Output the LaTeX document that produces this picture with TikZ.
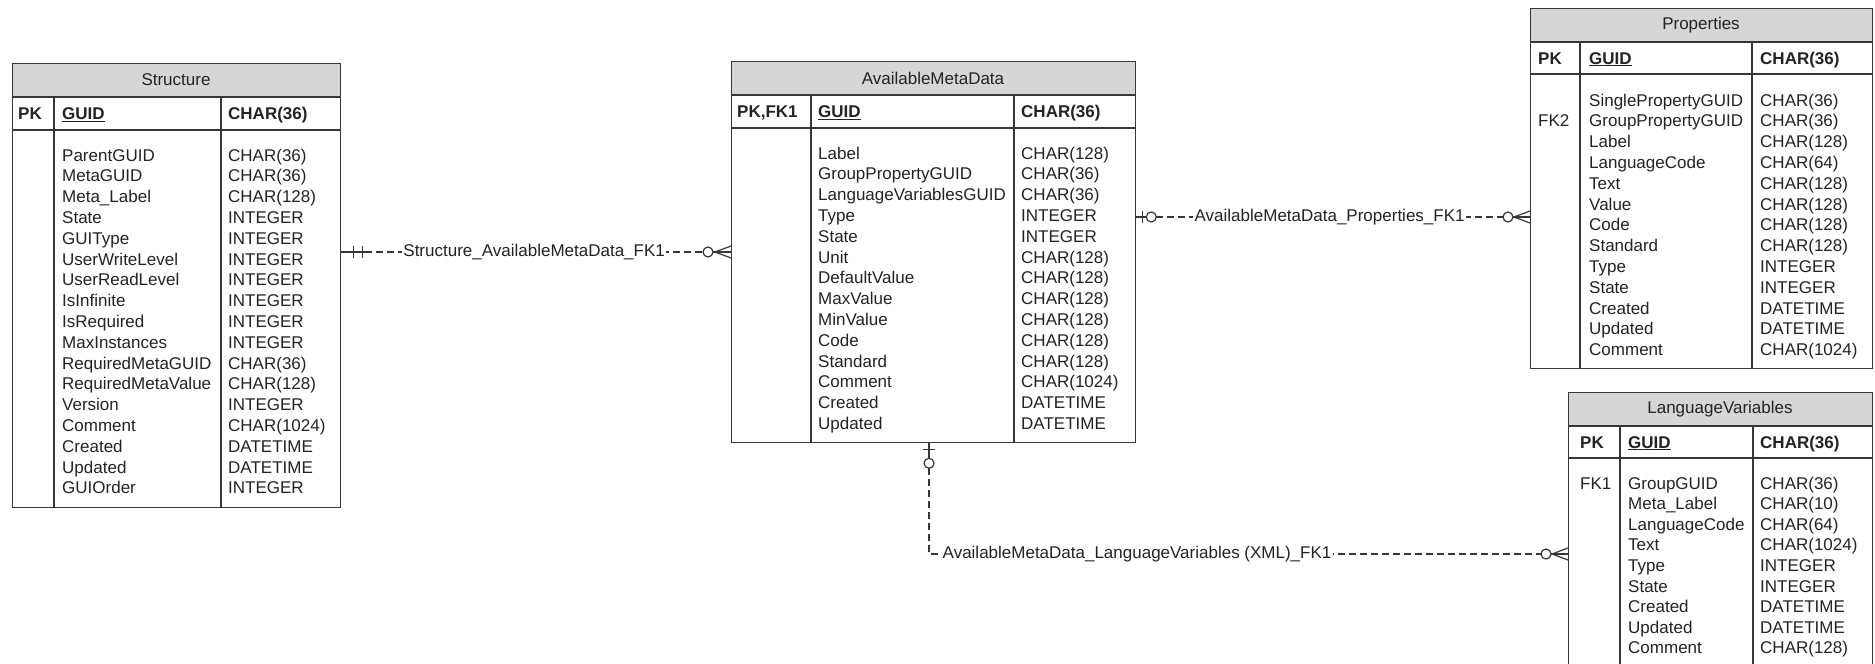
\documentclass[tikz,border=0pt]{standalone}
\usepackage{fontspec}
\setmainfont{Liberation Sans}
\usetikzlibrary{calc}
\definecolor{ink}{RGB}{35,35,35}
\definecolor{titlegray}{RGB}{214,214,214}
\definecolor{linegray}{RGB}{55,55,55}
\tikzset{
  tbox/.style={draw=linegray, line width=1.3pt, inner sep=0pt, anchor=north west},
  tline/.style={draw=linegray, line width=1.3pt},
  txt/.style={anchor=base west, inner sep=0pt, text=ink, font=\fontsize{17}{20}\selectfont},
  ttl/.style={anchor=center, inner sep=0pt, text=ink, font=\fontsize{17}{20}\selectfont},
  rel/.style={draw=linegray, line width=1.2pt, dash pattern=on 7pt off 4pt},
  relsolid/.style={draw=linegray, line width=1.2pt},
  lbl/.style={fill=white, inner sep=1.5pt, text=ink, font=\fontsize{17}{20}\selectfont},
}
\begin{document}
\begin{tikzpicture}[x=1pt,y=-1pt]
\useasboundingbox[fill=white] (0,0) rectangle (1875,664);

% ---------------- Structure ----------------
\fill[titlegray] (12,63) rectangle (340,97);
\node[tbox, minimum width=328pt, minimum height=444pt] (structure) at (12,63) {};
\draw[tline] (12,97) -- (340,97);
\draw[tline] (12,130) -- (340,130);
\draw[tline] (54,97) -- (54,507);
\draw[tline] (221,97) -- (221,507);
\node[ttl] (s-title) at (176,80) {Structure};
\node[txt] (s-pk) at (18,119.5) {\textbf{PK}};
\node[txt] (s-guid) at (62,119.5) {\textbf{\underline{GUID}}};
\node[txt] (s-guidt) at (228,119.5) {\textbf{CHAR(36)}};
\foreach \n/\t [count=\i from 0] in {ParentGUID/CHAR(36), MetaGUID/CHAR(36), Meta\_Label/CHAR(128), State/INTEGER, GUIType/INTEGER, UserWriteLevel/INTEGER, UserReadLevel/INTEGER, IsInfinite/INTEGER, IsRequired/INTEGER, MaxInstances/INTEGER, RequiredMetaGUID/CHAR(36), RequiredMetaValue/CHAR(128), Version/INTEGER, Comment/CHAR(1024), Created/DATETIME, Updated/DATETIME, GUIOrder/INTEGER}{
  \node[txt] (sn\i) at (62,{161+\i*20.8}) {\n};
  \node[txt] (st\i) at (228,{161+\i*20.8}) {\t};
}

% ---------------- AvailableMetaData ----------------
\fill[titlegray] (731,61) rectangle (1135,95);
\node[tbox, minimum width=404pt, minimum height=381pt] (amd) at (731,61) {};
\draw[tline] (731,95) -- (1135,95);
\draw[tline] (731,128) -- (1135,128);
\draw[tline] (811,95) -- (811,442);
\draw[tline] (1014,95) -- (1014,442);
\node[ttl] (a-title) at (933,78) {AvailableMetaData};
\node[txt] (a-pk) at (737,117.5) {\textbf{PK,FK1}};
\node[txt] (a-guid) at (818,117.5) {\textbf{\underline{GUID}}};
\node[txt] (a-guidt) at (1021,117.5) {\textbf{CHAR(36)}};
\foreach \n/\t [count=\i from 0] in {Label/CHAR(128), GroupPropertyGUID/CHAR(36), LanguageVariablesGUID/CHAR(36), Type/INTEGER, State/INTEGER, Unit/CHAR(128), DefaultValue/CHAR(128), MaxValue/CHAR(128), MinValue/CHAR(128), Code/CHAR(128), Standard/CHAR(128), Comment/CHAR(1024), Created/DATETIME, Updated/DATETIME}{
  \node[txt] (an\i) at (818,{159+\i*20.8}) {\n};
  \node[txt] (at\i) at (1021,{159+\i*20.8}) {\t};
}

% ---------------- Properties ----------------
\fill[titlegray] (1530,8) rectangle (1872,42);
\node[tbox, minimum width=342pt, minimum height=360pt] (props) at (1530,8) {};
\draw[tline] (1530,42) -- (1872,42);
\draw[tline] (1530,74) -- (1872,74);
\draw[tline] (1580,42) -- (1580,368);
\draw[tline] (1752,42) -- (1752,368);
\node[ttl] (p-title) at (1701,25) {Properties};
\node[txt] (p-pk) at (1538,64) {\textbf{PK}};
\node[txt] (p-guid) at (1589,64) {\textbf{\underline{GUID}}};
\node[txt] (p-guidt) at (1760,64) {\textbf{CHAR(36)}};
\node[txt] (p-fk) at (1538,{106+20.8}) {FK2};
\foreach \n/\t [count=\i from 0] in {SinglePropertyGUID/CHAR(36), GroupPropertyGUID/CHAR(36), Label/CHAR(128), LanguageCode/CHAR(64), Text/CHAR(128), Value/CHAR(128), Code/CHAR(128), Standard/CHAR(128), Type/INTEGER, State/INTEGER, Created/DATETIME, Updated/DATETIME, Comment/CHAR(1024)}{
  \node[txt] (pn\i) at (1589,{106+\i*20.8}) {\n};
  \node[txt] (pt\i) at (1760,{106+\i*20.8}) {\t};
}

% ---------------- LanguageVariables ----------------
\fill[titlegray] (1568,392) rectangle (1872,426);
\node[tbox, minimum width=304pt, minimum height=290pt] (lv) at (1568,392) {};
\draw[tline] (1568,426) -- (1872,426);
\draw[tline] (1568,458) -- (1872,458);
\draw[tline] (1620,426) -- (1620,682);
\draw[tline] (1753,426) -- (1753,682);
\node[ttl] (l-title) at (1720,409) {LanguageVariables};
\node[txt] (l-pk) at (1580,448) {\textbf{PK}};
\node[txt] (l-guid) at (1628,448) {\textbf{\underline{GUID}}};
\node[txt] (l-guidt) at (1760,448) {\textbf{CHAR(36)}};
\node[txt] (l-fk) at (1580,489) {FK1};
\foreach \n/\t [count=\i from 0] in {GroupGUID/CHAR(36), Meta\_Label/CHAR(10), LanguageCode/CHAR(64), Text/CHAR(1024), Type/INTEGER, State/INTEGER, Created/DATETIME, Updated/DATETIME, Comment/CHAR(128)}{
  \node[txt] (ln\i) at (1628,{489+\i*20.6}) {\n};
  \node[txt] (lt\i) at (1760,{489+\i*20.6}) {\t};
}

% ---------------- Relationship 1: Structure -> AvailableMetaData ----------------
\coordinate (r1) at (0,252);
\coordinate (e1a) at (structure.east |- r1);
\coordinate (e1b) at (amd.west |- r1);
\draw[relsolid] (e1a) -- ($(e1a)+(24,0)$);
\draw[relsolid] ($(e1a)+(12,-6)$) -- ($(e1a)+(12,6)$);
\draw[relsolid] ($(e1a)+(21,-6)$) -- ($(e1a)+(21,6)$);
\draw[rel] ($(e1a)+(24,0)$) -- ($(e1b)+(-28,0)$) node[lbl, midway] (lab1) {Structure\_AvailableMetaData\_FK1};
\draw[relsolid] ($(e1b)+(-23,0)$) circle (5);
\draw[relsolid] ($(e1b)+(-18,0)$) -- (e1b);
\draw[relsolid] ($(e1b)+(-16,0)$) -- ($(e1b)+(0,-6)$);
\draw[relsolid] ($(e1b)+(-16,0)$) -- ($(e1b)+(0,6)$);

% ---------------- Relationship 2: AvailableMetaData -> Properties ----------------
\coordinate (r2) at (0,217);
\coordinate (e2a) at (amd.east |- r2);
\coordinate (e2b) at (props.west |- r2);
\draw[relsolid] (e2a) -- ($(e2a)+(10,0)$);
\draw[relsolid] ($(e2a)+(6,-6)$) -- ($(e2a)+(6,6)$);
\draw[relsolid] ($(e2a)+(15,0)$) circle (5);
\draw[rel] ($(e2a)+(20,0)$) -- ($(e2b)+(-27,0)$) node[lbl, midway] (lab2) {AvailableMetaData\_Properties\_FK1};
\draw[relsolid] ($(e2b)+(-22,0)$) circle (5);
\draw[relsolid] ($(e2b)+(-17,0)$) -- (e2b);
\draw[relsolid] ($(e2b)+(-16,0)$) -- ($(e2b)+(0,-6)$);
\draw[relsolid] ($(e2b)+(-16,0)$) -- ($(e2b)+(0,6)$);

% ---------------- Relationship 3: AvailableMetaData -> LanguageVariables ----------------
\coordinate (c3x) at (929,0);
\coordinate (r3) at (0,554);
\coordinate (e3a) at (c3x |- amd.south);
\coordinate (k3) at (c3x |- r3);
\coordinate (e3b) at (lv.west |- r3);
\draw[relsolid] (e3a) -- ($(e3a)+(0,15)$);
\draw[relsolid] ($(e3a)+(-6,6)$) -- ($(e3a)+(6,6)$);
\draw[relsolid] ($(e3a)+(0,20)$) circle (5);
\draw[rel] ($(e3a)+(0,25)$) -- (k3) -- ($(e3b)+(-27,0)$) node[lbl, pos=0.34] (lab3) {AvailableMetaData\_LanguageVariables (XML)\_FK1};
\draw[relsolid] ($(e3b)+(-22,0)$) circle (5);
\draw[relsolid] ($(e3b)+(-17,0)$) -- (e3b);
\draw[relsolid] ($(e3b)+(-16,0)$) -- ($(e3b)+(0,-6)$);
\draw[relsolid] ($(e3b)+(-16,0)$) -- ($(e3b)+(0,6)$);
\end{tikzpicture}
\end{document}
